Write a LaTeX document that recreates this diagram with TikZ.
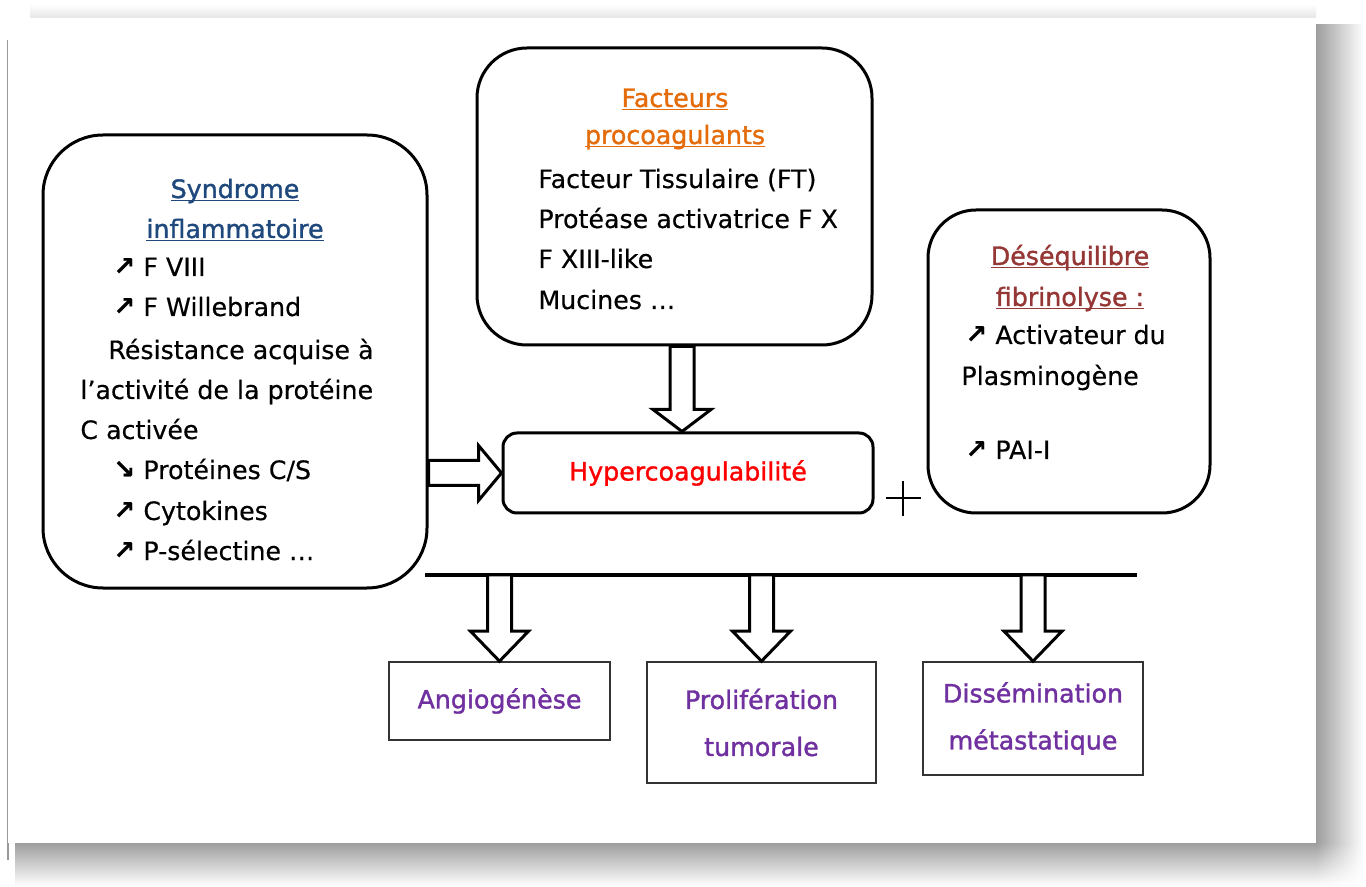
\documentclass[tikz,border=0pt]{standalone}
\usepackage{fontspec}
\setmainfont{DejaVu Sans}[FakeBold=0.4]
\newfontfamily\semibold{DejaVu Sans}[FakeBold=1.3]
\usetikzlibrary{calc,shadings}

\definecolor{synblue}{RGB}{31,73,125}
\definecolor{facorange}{RGB}{228,108,10}
\definecolor{fibred}{RGB}{149,55,53}
\definecolor{hypred}{RGB}{255,0,0}
\definecolor{effpurple}{RGB}{112,48,160}

\newcommand{\bodyfont}{\fontsize{12.65}{23.5}\selectfont}
\newcommand{\titleline}[1]{\setbox0\hbox{#1}\rlap{\rule[-1.6pt]{\wd0}{0.7pt}}#1}
\newcommand{\incr}{\makebox[15pt][l]{\fontsize{13}{13}\selectfont\bfseries\raisebox{0.5pt}{↗}}}
\newcommand{\decr}{\makebox[15pt][l]{\fontsize{13}{13}\selectfont\bfseries\raisebox{0.5pt}{↘}}}

\begin{document}
\begin{tikzpicture}[x=0.5pt,y=-0.5pt,line join=miter,
  roundbox/.style={draw,line width=1.5pt,rounded corners=#1,inner sep=0pt},
  plainbox/.style={draw=black!80,line width=0.8pt,inner sep=0pt,align=center,font=\bodyfont\semibold,text=effpurple},
  itemtext/.style={font=\bodyfont,inner sep=0pt,anchor=base west},
  titletext/.style={font=\bodyfont\semibold,inner sep=0pt,anchor=base},
  hollow/.style={draw,fill=white,line width=1.5pt},
  blockdown/.style={hollow,to path={let \p1=(\tikztostart),\p2=(\tikztotarget) in
      (\x2-6pt,\y1) -- (\x2-6pt,\y2+#1) -- (\x2-14.5pt,\y2+#1) -- (\x2,\y2)
      -- (\x2+14.5pt,\y2+#1) -- (\x2+6pt,\y2+#1) -- (\x2+6pt,\y1) -- cycle}},
  blockdown/.default=11pt,
  blockright/.style={hollow,to path={let \p1=(\tikztostart),\p2=(\tikztotarget) in
      (\x1,\y2+6.25pt) -- (\x2-11.5pt,\y2+6.25pt) -- (\x2-11.5pt,\y2+13.75pt) -- (\x2,\y2)
      -- (\x2-11.5pt,\y2-13.75pt) -- (\x2-11.5pt,\y2-6.25pt) -- (\x1,\y2-6.25pt) -- cycle}}]

  % page and its shadow
  \fill[white] (0,0) rectangle (1366,887);
  \useasboundingbox (0,0) rectangle (1366,887);
  \shade[left color=black!38,right color=white] (1316,25) rectangle (1364,843);
  \shade[top color=black!38,bottom color=white] (15,843) rectangle (1316,886);
  \shade[upper left=black!38,upper right=white,lower left=white,lower right=white] (1316,843) rectangle (1364,886);
  \shade[top color=white,bottom color=black!10] (30,4) rectangle (1316,18);
  \draw[black!40,line width=0.6pt] (8,40) -- (8,860);
  \fill[white] (8,18) rectangle (1316,843);

  % boxes
  \node[roundbox=30pt,minimum width=192pt,minimum height=226.5pt] (infl) at (235,361.5) {};
  \node[roundbox=25pt,minimum width=197.5pt,minimum height=148.5pt] (fact) at (674.5,196.5) {};
  \node[roundbox=24pt,minimum width=141pt,minimum height=151.5pt] (fibr) at (1069,361.5) {};
  \node[roundbox=7pt,minimum width=185pt,minimum height=40pt,font=\bodyfont\semibold,text=hypred] (hyp) at (688,473) {Hypercoagulabilité};

  \node[plainbox,minimum width=110.5pt,minimum height=39pt] (angio) at (499.5,701) {Angiogénèse};
  \node[plainbox,minimum width=114.5pt,minimum height=60.5pt] (prolif) at (761.5,722.5) {Prolifération\\tumorale};
  \node[plainbox,minimum width=110pt,minimum height=56.5pt] (dissem) at (1033,718.5) {Dissémination\\métastatique};

  % syndrome inflammatoire
  \node[titletext,text=synblue] (inflA) at (235,198) {\titleline{Syndrome}};
  \node[titletext,text=synblue] (inflB) at (235,238) {\titleline{inflammatoire}};
  \node[itemtext] (infl1) at (113,276) {\incr F VIII};
  \node[itemtext] (infl2) at (113,316) {\incr F Willebrand};
  \node[itemtext] (infl3) at (108,359) {Résistance acquise à};
  \node[itemtext] (infl4) at (80,399) {l’activité de la protéine};
  \node[itemtext] (infl5) at (80,439) {C activée};
  \node[itemtext] (infl6) at (113,479) {\decr Protéines C/S};
  \node[itemtext] (infl7) at (113,520) {\incr Cytokines};
  \node[itemtext] (infl8) at (113,560) {\incr P-sélectine …};

  % facteurs procoagulants
  \node[titletext,text=facorange] (factA) at (675,107) {\titleline{Facteurs}};
  \node[titletext,text=facorange] (factB) at (675,144) {\titleline{procoagulants}};
  \node[itemtext] (fact1) at (538,188) {Facteur Tissulaire (FT)};
  \node[itemtext] (fact2) at (538,228) {Protéase activatrice F X};
  \node[itemtext] (fact3) at (538,268) {F XIII-like};
  \node[itemtext] (fact4) at (538,309) {Mucines …};

  % fibrinolyse
  \node[titletext,text=fibred] (fibrA) at (1070,265) {\titleline{Déséquilibre}};
  \node[titletext,text=fibred] (fibrB) at (1070,306) {\titleline{fibrinolyse :}};
  \node[itemtext] (fibr1) at (965,344) {\incr Activateur du};
  \node[itemtext] (fibr2) at (961,385) {Plasminogène};
  \node[itemtext] (fibr3) at (965,459) {\incr PAI-I};

  % plus
  \draw[line width=1pt] (886,498) -- (921,498) (903,481) -- (903,516);

  % connectors
  \coordinate (hypin) at ($(hyp.north)+(-6,0)$);
  \coordinate (inflout) at (infl.east |- hyp.west);
  \draw[blockdown] (fact.south) to (hypin);
  \draw[blockright] (inflout) to (hyp.west);

  \coordinate (barL) at (425,575);
  \coordinate (barR) at (1137,575);
  \draw[line width=2pt] (barL) -- (barR);
  \foreach \b in {angio,prolif,dissem}{
    \coordinate (\b top) at (\b.north |- barL);
    \draw[blockdown=15pt] (\b top) to (\b.north);
  }

\end{tikzpicture}
\end{document}
